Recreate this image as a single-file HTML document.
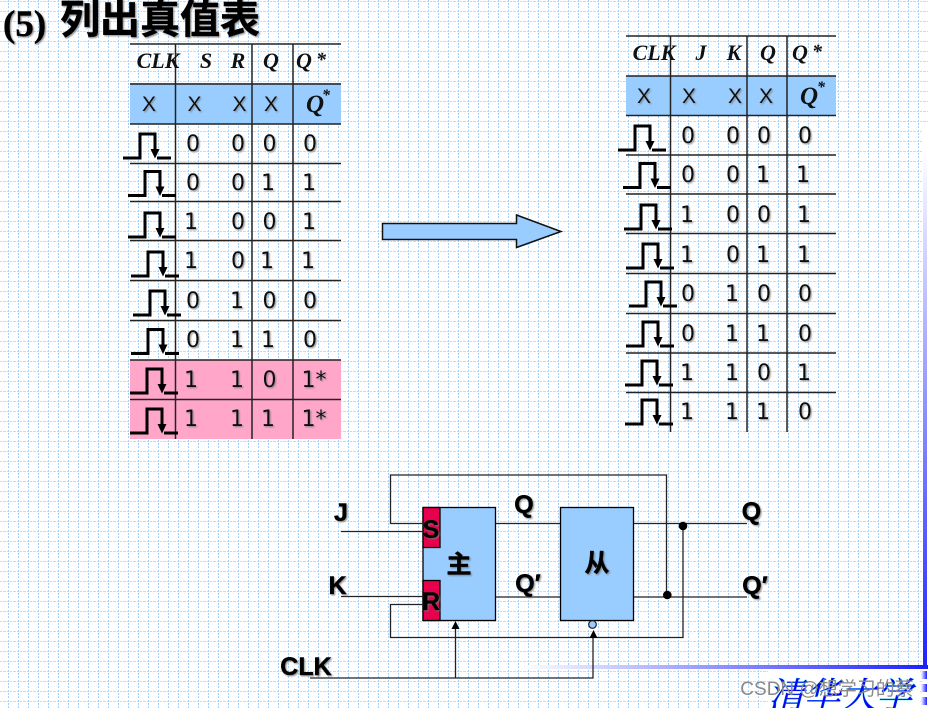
<!DOCTYPE html>
<html><head><meta charset="utf-8"><style>
html,body{margin:0;padding:0;background:#fff}
svg{display:block}
.t{font-family:"Liberation Serif","Noto Serif CJK SC",serif;font-weight:bold;font-style:italic;font-size:22px;fill:#111;text-anchor:middle}
.d{font-family:"DejaVu Sans",sans-serif;font-size:22px;fill:#111;text-anchor:middle;filter:url(#s)}
.x{font-family:"Liberation Sans",sans-serif;font-size:21px;fill:#111;text-anchor:middle;filter:url(#s)}
.l{font-family:"Liberation Sans","Noto Sans CJK SC",sans-serif;font-weight:bold;font-size:25px;fill:#000;stroke:#000;stroke-width:.5;text-anchor:middle;filter:url(#s)}
.k{stroke:#222;fill:none}
.p{stroke:#000;stroke-width:3;fill:none}
</style></head><body>
<svg xmlns="http://www.w3.org/2000/svg" width="928" height="708" viewBox="0 0 928 708">
<defs>
<filter id="s" x="-20%" y="-20%" width="150%" height="150%"><feDropShadow dx="1.2" dy="1.2" stdDeviation="0.7" flood-color="#777" flood-opacity=".75"/></filter>
<pattern id="g" width="10" height="10" patternUnits="userSpaceOnUse" x="0" y="0">
<path d="M0 1.500H10" stroke="#c0dcf8" stroke-width="1" stroke-dasharray="2 1 3 1 2 1"/>
<path d="M8.500 0V10" stroke="#a4d0fb" stroke-width="1" stroke-dasharray="2 1 2 1 2 2"/>
</pattern>
<linearGradient id="b" x1="0" x2="1" y1="0" y2="0"><stop offset="0" stop-color="#fff"/><stop offset="1" stop-color="#1f1fff"/></linearGradient>
<linearGradient id="v" x1="0" x2="0" y1="0" y2="1"><stop offset="0" stop-color="#fff"/><stop offset="1" stop-color="#1f1fff"/></linearGradient>
<linearGradient id="st" x1="0" x2="1" y1="0" y2="0"><stop offset="0" stop-color="#fff"/><stop offset="1" stop-color="#1f1fff"/></linearGradient>
<g id="pulse"><path class="p" d="M0 0H17V-24H32V-6M34 0H48"/><path d="M27.500 -9H36.500L32 0.500Z" fill="#000"/></g>
</defs>
<rect width="928" height="708" fill="#fff"/>
<rect width="928" height="708" fill="url(#g)"/>

<!-- decoration -->
<rect x="768" y="669" width="152" height="39" fill="#fff"/>
<rect x="922" y="130" width="6" height="578" fill="#fff"/>
<rect x="520" y="665" width="408" height="4" fill="url(#b)"/>
<rect x="923" y="150" width="4" height="519" fill="url(#v)"/>
<rect x="921" y="671" width="6" height="8" fill="url(#st)"/><rect x="921" y="684" width="6" height="8" fill="url(#st)"/><rect x="921" y="697" width="6" height="8" fill="url(#st)"/>
<text x="768" y="708" font-family="'Noto Serif CJK SC',serif" font-style="italic" font-size="36" fill="#0808ee" stroke="#33ddff" stroke-width=".6" paint-order="stroke">清华大学</text>
<text x="827" y="695" text-anchor="middle" font-family="'Liberation Sans','Noto Sans CJK SC',sans-serif" font-size="19" fill="#8a8a8a">CSDN @想学习的蔡</text>

<!-- title -->
<text x="3" y="36" font-family="'Liberation Serif',serif" font-weight="bold" font-size="37" fill="#000" stroke="#000" stroke-width=".5" filter="url(#s)">(5)</text>
<text x="60" y="33" font-family="'Noto Sans CJK SC',sans-serif" font-weight="bold" font-size="40" fill="#000" stroke="#000" stroke-width=".5" filter="url(#s)">列出真值表</text>

<!-- table 1 -->
<rect x="130" y="83" width="211" height="41" fill="#99ccff"/>
<rect x="130" y="360" width="211" height="79" fill="#ffa6c9"/>
<g class="k" stroke-width="1.500">
<path d="M130 44H341M130 84H341M130 124H341M130 163.500H341M130 201.500H341M130 240.500H341M130 280.500H341M130 320.500H341M130 360H341M130 399.500H341"/>
<path d="M175.500 44V439M252 44V439M293 44V439"/>
</g>
<g class="t"><text x="158" y="68">CLK</text><text x="206" y="68">S</text><text x="238" y="68">R</text><text x="271" y="68">Q</text><text x="304" y="68">Q</text><text x="321" y="66" font-size="20">*</text>
<text x="315" y="112" font-size="25">Q</text><text x="326" y="100" font-size="16">*</text></g>
<g class="x"><text x="149" y="111">X</text><text x="194.500" y="111">X</text><text x="239.500" y="111">X</text><text x="271" y="111">X</text></g>

<g class="d">
<text x="193" y="151">0</text><text x="238" y="151">0</text><text x="269.500" y="151">0</text><text x="310" y="151">0</text>
<text x="193" y="190">0</text><text x="238" y="190">0</text><text x="268" y="190">1</text><text x="309" y="190">1</text>
<text x="191" y="229">1</text><text x="238" y="229">0</text><text x="269.500" y="229">0</text><text x="309" y="229">1</text>
<text x="191" y="268">1</text><text x="238" y="268">0</text><text x="267" y="268">1</text><text x="308" y="268">1</text>
<text x="193" y="308">0</text><text x="237" y="308">1</text><text x="269.500" y="308">0</text><text x="310" y="308">0</text>
<text x="193" y="347">0</text><text x="237" y="347">1</text><text x="268" y="347">1</text><text x="310" y="347">0</text>
<text x="191" y="387">1</text><text x="237" y="387">1</text><text x="269.500" y="387">0</text><text x="314" y="387">1*</text>
<text x="191" y="426">1</text><text x="237" y="426">1</text><text x="268" y="426">1</text><text x="314" y="426">1*</text>
</g>
<use href="#pulse" x="123" y="158"/><use href="#pulse" x="128" y="195.500"/><use href="#pulse" x="128" y="237"/><use href="#pulse" x="131" y="276"/><use href="#pulse" x="133" y="315"/><use href="#pulse" x="131" y="353.500"/><use href="#pulse" x="130" y="393"/><use href="#pulse" x="130" y="433"/>

<!-- arrow -->
<path d="M382.500 223.500H516.500V215L561 231.500L516.500 247.500V239.500H382.500Z" fill="#99ccff" stroke="#111" stroke-width="1.500"/>

<!-- table 2 -->
<rect x="626" y="76" width="210" height="40" fill="#99ccff"/>
<g class="k" stroke-width="1.500">
<path d="M626 36H836M626 76H836M626 115.500H836M626 155H836M626 194H836M626 233.500H836M626 273.500H836M626 313.500H836M626 353H836M626 392.500H836"/>
<path d="M670.500 36V432M747 36V432M787 36V432"/>
</g>
<g class="t"><text x="654" y="60">CLK</text><text x="701" y="60">J</text><text x="734" y="60">K</text><text x="768" y="60">Q</text><text x="800" y="60">Q</text><text x="817" y="58" font-size="20">*</text>
<text x="809" y="104" font-size="25">Q</text><text x="821" y="92" font-size="16">*</text></g>
<g class="x"><text x="644" y="103">X</text><text x="689" y="103">X</text><text x="735" y="103">X</text><text x="766" y="103">X</text></g>
<g class="d">
<text x="688" y="143">0</text><text x="733" y="143">0</text><text x="764" y="143">0</text><text x="805" y="143">0</text>
<text x="688" y="182">0</text><text x="733" y="182">0</text><text x="763" y="182">1</text><text x="803" y="182">1</text>
<text x="687" y="222">1</text><text x="733" y="222">0</text><text x="764" y="222">0</text><text x="804" y="222">1</text>
<text x="687" y="262">1</text><text x="733" y="262">0</text><text x="763" y="262">1</text><text x="804" y="262">1</text>
<text x="688" y="301">0</text><text x="732" y="301">1</text><text x="764" y="301">0</text><text x="805" y="301">0</text>
<text x="688" y="341">0</text><text x="732" y="341">1</text><text x="763" y="341">1</text><text x="805" y="341">0</text>
<text x="687" y="380">1</text><text x="732" y="380">1</text><text x="764" y="380">0</text><text x="804" y="380">1</text>
<text x="687" y="419">1</text><text x="732" y="419">1</text><text x="763" y="419">1</text><text x="805" y="419">0</text>
</g>
<use href="#pulse" x="618" y="150"/><use href="#pulse" x="623" y="187.500"/><use href="#pulse" x="624" y="229"/><use href="#pulse" x="626" y="268"/><use href="#pulse" x="629" y="306"/><use href="#pulse" x="626" y="346"/><use href="#pulse" x="625" y="385"/><use href="#pulse" x="625" y="424"/>

<!-- circuit -->
<rect x="423" y="507.500" width="72.500" height="113" fill="#99ccff" stroke="#000" stroke-width="1.300"/>
<rect x="423" y="507.500" width="17" height="40" fill="#e6004d" stroke="#000" stroke-width="1.300"/>
<rect x="423" y="580.500" width="17" height="40" fill="#e6004d" stroke="#000" stroke-width="1.300"/>
<rect x="560.500" y="507.500" width="73" height="113" fill="#99ccff" stroke="#000" stroke-width="1.300"/>
<g class="k" stroke-width="1.300">
<path d="M423 523.500H390.500V475H666.500V595"/>
<path d="M683 526V637.500H390.500V604.500H423"/>
<path d="M341 531.500H423M341 596.500H423"/>
<path d="M496 523.500H560M496 597H560"/>
<path d="M634 523.500H747M634 597H747"/>
<path d="M310 678H593V637M455.500 678V628"/>
</g>
<circle cx="683" cy="526" r="4.300" fill="#000"/>
<circle cx="667.300" cy="595" r="4.300" fill="#000"/>
<circle cx="592.500" cy="624.500" r="3.800" fill="#99ccff" stroke="#222" stroke-width="1.200"/>
<path d="M455.500 621L451.500 629H459.500Z" fill="#000"/>
<path d="M593.500 630L589.500 638H597.500Z" fill="#000"/>
<g class="l">
<text x="341" y="521">J</text><text x="337.500" y="594">K</text><text x="524" y="513">Q</text><text x="528" y="592">Q′</text>
<text x="751.500" y="520">Q</text><text x="755" y="594">Q′</text><text x="306" y="675">CLK</text>
<text x="431" y="538">S</text><text x="431" y="610">R</text>
<text x="459" y="573">主</text><text x="597" y="572">从</text>
</g>
</svg>
</body></html>
